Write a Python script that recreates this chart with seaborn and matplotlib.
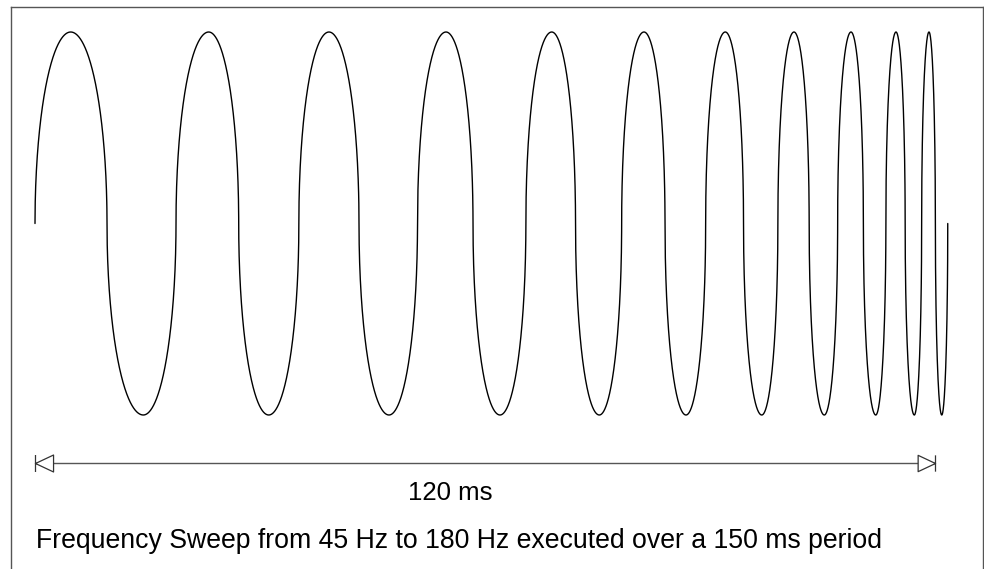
import numpy as np
import matplotlib
matplotlib.use("Agg")
import matplotlib.pyplot as plt
from matplotlib.path import Path
import seaborn as sns

peak_ms = [4.76, 23.16, 39.2, 54.8, 68.9, 81.2, 92.04, 101.2, 108.8, 114.8, 119.2]
trough_ms = [14.44, 31.16, 47.2, 62.0, 75.24, 86.8, 96.9, 105.24, 112.1, 117.24, 120.9]
start_ms = 0.0
end_ms = 121.7

span_ms = 120
span_label = "120 ms"
caption = "Frequency Sweep from 45 Hz to 180 Hz executed over a 150 ms period"

sns.set_style("white")
plt.rcParams['font.family'] = ['Liberation Sans', 'DejaVu Sans']

# phase (in cycles) known at each start / crest / trough / end
key_t = [start_ms]
key_phase = [0.0]
for i, (p, tr) in enumerate(zip(peak_ms, trough_ms)):
    key_t += [p, tr]
    key_phase += [i + 0.25, i + 0.75]
key_t.append(end_ms)
key_phase.append(float(len(peak_ms)))

# sample grid, with the zero crossings included exactly
zero_t = np.interp(np.arange(0, 2 * len(peak_ms) + 1) * 0.5, key_phase, key_t)
t = np.unique(np.concatenate([np.linspace(start_ms, end_ms, 8000), zero_t]))
phase = np.interp(t, key_t, key_phase)

# each half cycle is drawn as a half-ellipse lobe (like the reference)
half = np.floor(2 * phase)
s = 2 * phase - half
half = np.minimum(half, 2 * len(peak_ms) - 1)
s = np.where(t >= end_ms, 1.0, s)
sign = np.where(half % 2 == 0, 1.0, -1.0)
signal = sign * np.sqrt(np.clip(1 - (2 * s - 1) ** 2, 0, 1))

W, H = 984, 569
fig = plt.figure(figsize=(W / 100, H / 100), dpi=100)

# open frame (left, top, right)
frame = fig.add_axes([11 / W, 0, (983 - 11) / W, (H - 7) / H])
frame.set_xticks([])
frame.set_yticks([])
frame.spines['bottom'].set_visible(False)
for sp in ['left', 'top', 'right']:
    frame.spines[sp].set_color('#555555')
    frame.spines[sp].set_linewidth(1.0)

ax = fig.add_axes([0, 0, 1, 1])
ax.patch.set_alpha(0)
ax.axis('off')

sns.lineplot(x=t, y=signal, ax=ax, color='black', linewidth=1.0, sort=False)

# px -> data mapping: x = 35 + 7.5*t, y = 223.5 - 191.5*v
ax.set_xlim(-35 / 7.5, (W - 35) / 7.5)
ax.set_ylim(-(H - 223.5) / 191.5, 223.5 / 191.5)

# dimension arrow with open heads and end bars
arrow_y = -1.252
ax.plot([0, span_ms], [arrow_y, arrow_y], color='#555555', lw=1.0)

h = 0.47
left_head = Path([(0, 0), (1, h), (1, -h), (0, 0), (0, -h), (0, h)],
                 [Path.MOVETO, Path.LINETO, Path.LINETO, Path.CLOSEPOLY,
                  Path.MOVETO, Path.LINETO])
right_head = Path([(0, 0), (-1, h), (-1, -h), (0, 0), (0, -h), (0, h)],
                  [Path.MOVETO, Path.LINETO, Path.LINETO, Path.CLOSEPOLY,
                   Path.MOVETO, Path.LINETO])
ax.plot([0], [arrow_y], marker=left_head, markersize=26, markerfacecolor='white',
        markeredgecolor='#333333', markeredgewidth=0.9, linestyle='none')
ax.plot([span_ms], [arrow_y], marker=right_head, markersize=25, markerfacecolor='white',
        markeredgecolor='#333333', markeredgewidth=0.9, linestyle='none')

ax.text(55.3, -1.444, span_label, fontsize=18.5, ha='center', va='baseline', color='black')
ax.text(0.13, -1.696, caption, fontsize=19.2, ha='left', va='baseline', color='black')

fig.savefig("out.png", dpi=100)
